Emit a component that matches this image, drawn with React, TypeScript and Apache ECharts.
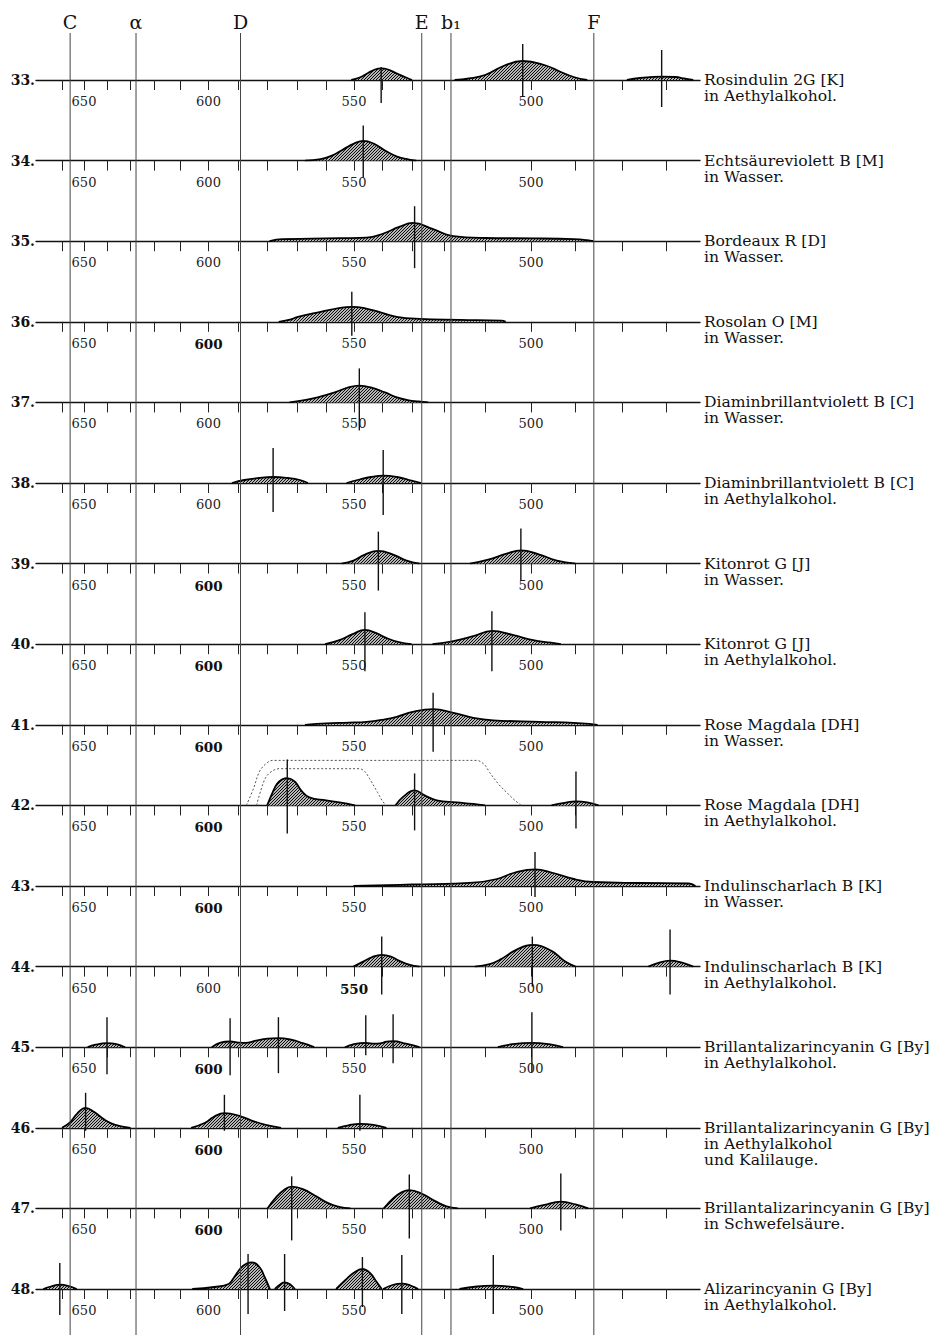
import React, { useEffect, useRef } from "react";
import * as echarts from "echarts";

const FONT = '"DejaVu Serif", "Liberation Serif", serif';

// Scale of the spectroscope: wavelength (µµ) -> scale divisions
const SCALE_NM = [670, 660, 650, 640, 630, 620, 610, 600, 590, 580, 570, 560, 550, 540, 530, 520, 510, 500, 490, 480, 470, 460];
const SCALE_DIV = [40, 62, 84, 107, 130.5, 154.5, 180.5, 208.5, 238.5, 267.5, 297, 326.5, 354, 382, 412, 444.5, 485, 531, 575.5, 622.5, 666.5, 711];

const TICK_NM = [660, 650, 640, 630, 620, 610, 600, 590, 580, 570, 560, 550, 540, 530, 520, 510, 500, 490, 480, 470];
const LABEL_NM = [650, 600, 550, 500];

const FRAUNHOFER_NAMES = ["C", "α", "D", "E", "b₁", "F"];
const FRAUNHOFER_NM = [656.3, 627.7, 589.3, 527.0, 518.4, 486.1];

const ROW_NUMBERS = [33, 34, 35, 36, 37, 38, 39, 40, 41, 42, 43, 44, 45, 46, 47, 48];
const ROW_NAMES = [
  "Rosindulin 2G [K]\nin Aethylalkohol.",
  "Echtsäureviolett B [M]\nin Wasser.",
  "Bordeaux R [D]\nin Wasser.",
  "Rosolan O [M]\nin Wasser.",
  "Diaminbrillantviolett B [C]\nin Wasser.",
  "Diaminbrillantviolett B [C]\nin Aethylalkohol.",
  "Kitonrot G [J]\nin Wasser.",
  "Kitonrot G [J]\nin Aethylalkohol.",
  "Rose Magdala [DH]\nin Wasser.",
  "Rose Magdala [DH]\nin Aethylalkohol.",
  "Indulinscharlach B [K]\nin Wasser.",
  "Indulinscharlach B [K]\nin Aethylalkohol.",
  "Brillantalizarincyanin G [By]\nin Aethylalkohol.",
  "Brillantalizarincyanin G [By]\nin Aethylalkohol\nund Kalilauge.",
  "Brillantalizarincyanin G [By]\nin Schwefelsäure.",
  "Alizarincyanin G [By]\nin Aethylalkohol.",
];
// scale numbers printed in heavier type, per row
const BOLD_LABELS = [[], [], [], [600], [], [], [600], [600], [600], [600], [600], [550], [600], [600], [600], []];

// absorption bands: [wavelength, height]
const BANDS_33 = [
  [[551, 0], [548, 2.5], [545, 7], [542.5, 10.5], [540.3, 11.7], [538, 10.5], [535, 6.5], [532, 2.5], [530, 0]],
  [[517.5, 0], [514, 1.5], [510, 5], [506, 14], [501.8, 19], [497, 15], [493.3, 8], [490.4, 3], [487.5, 0]],
  [[479, 0], [476, 2], [473, 3.2], [471.1, 3.4], [468, 3], [466, 1.5], [464, 0]],
];
const PEAKS_33 = [[540.3, 13, 23], [501.8, 36, 17], [471.1, 30, 27]];

const BANDS_34 = [
  [[567.3, 0], [562, 1.5], [558, 5], [554, 11], [550, 17], [546.7, 19.7], [543, 17], [539, 10], [535, 4], [531, 1], [528.7, 0]],
];
const PEAKS_34 = [[546.7, 35, 17]];

const BANDS_35 = [
  [[579.3, 0], [575, 2], [565, 2.5], [555, 3], [545.5, 3.5], [539.5, 7.7], [534.5, 14], [529.7, 18.3], [523.5, 12], [517.8, 5], [510, 3.2], [498.8, 2.8], [490.4, 2], [487.5, 1], [486.2, 0]],
];
const PEAKS_35 = [[529.2, 35, 27]];

const BANDS_36 = [
  [[576.2, 0], [572, 2.5], [569.7, 5], [562, 10], [555, 14], [550.8, 15], [546, 13.5], [540, 9], [535.1, 5], [527.7, 3], [516.2, 2], [506.4, 1.2], [505.5, 0]],
];
const PEAKS_36 = [[550.8, 30, 14]];

const BANDS_37 = [
  [[572.5, 0], [568, 2], [563, 5], [557, 10], [552, 15], [548.1, 16.7], [544, 15], [539, 10], [535, 5], [531, 2], [528, 1], [525, 0]],
];
const PEAKS_37 = [[548.1, 34, 28]];

const BANDS_38 = [
  [[592.2, 0], [588, 3], [583, 5], [578.1, 6], [573, 5], [569, 3], [566.3, 0]],
  [[552.7, 0], [548, 3.5], [544, 6], [539.6, 7.3], [535, 6], [531, 3], [527.2, 0]],
];
const PEAKS_38 = [[578.1, 35, 29], [539.6, 33, 32]];

const BANDS_39 = [
  [[554.5, 0], [550.2, 3], [546.1, 9], [541.3, 12.7], [536.3, 9], [531.8, 3], [527.7, 0]],
  [[513.7, 0], [509.3, 4], [505.3, 10], [502.2, 13.3], [498.1, 9], [494.2, 3], [490, 0]],
];
const PEAKS_39 = [[541.3, 32, 27], [502.2, 35, 17]];

const BANDS_40 = [
  [[560.5, 0], [555.3, 4], [550.5, 10], [546.1, 14.3], [542, 11], [538.4, 6], [534.4, 2], [530.2, 0]],
  [[523.7, 0], [517.8, 3], [512.9, 8], [508.5, 13.3], [503.8, 9], [499.5, 4], [495.5, 1.5], [493.3, 0]],
];
const PEAKS_40 = [[546.1, 32, 27], [508.5, 33, 27]];

const BANDS_41 = [
  [[567.3, 0], [560, 1.5], [552, 2.2], [545.5, 3], [540, 5], [535.1, 8], [529.8, 13], [523.5, 15.7], [517.8, 12], [512.9, 7], [508.2, 4.5], [498.1, 3], [490.4, 2], [487, 1], [485.3, 0]],
];
const PEAKS_41 = [[523.5, 32, 27]];

const BANDS_42 = [
  [[580.1, 0], [578.4, 12], [576.7, 22], [575, 26], [573.3, 27.3], [570.8, 24], [568.6, 15], [565.8, 8], [560.1, 5], [555.3, 3], [549.6, 0]],
  [[535.5, 0], [532.8, 9], [529.2, 15], [526.1, 10], [522.4, 5], [517, 3], [512.9, 1.5], [510, 0]],
  [[495.4, 0], [492.5, 2.5], [489.9, 4], [487.5, 3], [485.1, 0]],
];
const PEAKS_42 = [[573.3, 46, 28], [529.2, 32, 25], [489.9, 34, 23]];
// limits of the absorption at higher concentration (dotted)
const DOTTED_42 = [
  [[587.3, 0], [584.8, 17], [582.9, 33], [580.8, 41], [578.3, 45], [560, 45], [540, 45], [520, 45], [512.1, 45], [510.2, 41], [509, 33], [507, 21], [505.3, 13], [503.5, 5], [502.1, 0]],
  [[583.8, 0], [582.3, 15], [580.6, 28], [578.6, 34], [576.1, 36.7], [565, 36.7], [555, 36.7], [548.1, 36.7], [546.2, 34], [544.5, 27], [541.6, 13], [540, 5], [538.7, 0]],
];

const BANDS_43 = [
  [[550.2, 0], [529.8, 1.5], [512.9, 3.3], [507.4, 7], [503.8, 13], [499.1, 16.7], [495, 13], [490.4, 7], [486.2, 4], [475.7, 3], [465, 2.5], [463.5, 0]],
];
const PEAKS_43 = [[499.1, 34, 11]];

const BANDS_44 = [
  [[550.2, 0], [546.7, 5], [543.5, 9.5], [540.1, 11.7], [537, 10], [534.4, 6], [531, 2], [527.7, 0]],
  [[512.5, 0], [509, 2.5], [506.7, 7], [503.1, 17], [499.7, 21.7], [495.5, 16], [492.3, 5], [490, 0]],
  [[474.1, 0], [472, 3.5], [469.2, 6], [466.5, 4], [464, 0]],
];
const PEAKS_44 = [[540.1, 30, 28], [499.7, 30, 20], [469.2, 37, 28]];

const BANDS_45 = [
  [[648.4, 0], [645, 2.5], [640, 4], [636, 3], [632.3, 0]],
  [[598.9, 0], [596, 4.5], [592.8, 5.7], [589.5, 4.5], [587.6, 4.3], [584, 6.5], [580, 8.5], [576.3, 9], [572, 7.5], [568, 4], [564.2, 0]],
  [[553.3, 0], [550, 3], [545.8, 4.3], [542.5, 3.5], [540.7, 3.8], [538.5, 5.5], [536.3, 6], [532, 3.5], [527.7, 0]],
  [[507.2, 0], [504, 3], [499.8, 4.3], [496, 3], [492.8, 0]],
];
const PEAKS_45 = [[640, 30, 27], [592.8, 29, 28], [576.3, 30, 26], [545.8, 32, 8], [536.3, 33, 16], [499.8, 35, 25]];

const BANDS_46 = [
  [[660, 0], [656.1, 6], [653.2, 14], [649.3, 20], [645.7, 16], [641, 8], [636.5, 3], [630, 0]],
  [[606.2, 0], [601.2, 5], [598.2, 11], [594.7, 14.7], [589.7, 12], [585.3, 7], [580.6, 3], [575.4, 0]],
  [[555.9, 0], [552, 2.5], [547.9, 4], [543, 3], [538.5, 0]],
];
const PEAKS_46 = [[649.3, 35, 3], [594.7, 33, 3], [547.9, 33, 3]];

const BANDS_47 = [
  [[580, 0], [577.1, 11], [574.2, 19], [571.8, 21.7], [567.8, 19], [563.5, 12], [559.2, 5], [555.4, 1.5], [551.3, 0]],
  [[539.4, 0], [536.3, 10], [533.5, 16], [530.9, 18.3], [526.6, 14], [522.7, 7], [519.5, 2], [516.7, 0]],
  [[500.2, 0], [497, 3.5], [493.3, 6.7], [490, 4], [487.3, 0]],
];
const PEAKS_47 = [[571.8, 32, 32], [530.9, 34, 30], [493.3, 35, 22]];

const BANDS_48 = [
  [[668.5, 0], [665, 2.5], [661, 4.3], [657, 3], [653.3, 0]],
  [[605.8, 0], [598.1, 2], [593.3, 5], [591.4, 12], [588.5, 23], [585.5, 26.7], [582.8, 22], [581, 12], [579.2, 0]],
  [[577.5, 0], [575.5, 5], [574.2, 6.7], [572.5, 5], [570.7, 0]],
  [[556.5, 0], [553.1, 9], [550.2, 16], [547, 20], [544.3, 16], [541.9, 7], [540.1, 0]],
  [[539.6, 0], [536.5, 4], [533.4, 5.3], [530.5, 3.5], [528.1, 0]],
  [[516.3, 0], [512, 2.5], [508.2, 3.3], [504, 2], [501.7, 0]],
];
const PEAKS_48 = [[661, 26, 26], [586.7, 35, 25], [574.2, 35, 22], [547, 32, 18], [533.4, 34, 25], [508.2, 34, 25]];

const ROW_BANDS = [BANDS_33, BANDS_34, BANDS_35, BANDS_36, BANDS_37, BANDS_38, BANDS_39, BANDS_40, BANDS_41, BANDS_42, BANDS_43, BANDS_44, BANDS_45, BANDS_46, BANDS_47, BANDS_48];
const ROW_PEAKS = [PEAKS_33, PEAKS_34, PEAKS_35, PEAKS_36, PEAKS_37, PEAKS_38, PEAKS_39, PEAKS_40, PEAKS_41, PEAKS_42, PEAKS_43, PEAKS_44, PEAKS_45, PEAKS_46, PEAKS_47, PEAKS_48];
const ROW_DOTTED: Record<number, number[][][]> = { 9: DOTTED_42 };

// layout
const W = 935;
const H = 1335;
const BASE0 = 80;
const ROW_STEP = 80.6;
const AXIS_LEFT = 36;
const AXIS_RIGHT = 700;
const GRID_H = 55;
const FR_TOP = 33;

function nmToDiv(nm: number): number {
  const n = SCALE_NM.length;
  for (let k = 0; k < n - 1; k++) {
    const a = SCALE_NM[k];
    const b = SCALE_NM[k + 1];
    if (nm <= a && nm >= b) {
      const t = (a - nm) / (a - b);
      return SCALE_DIV[k] + t * (SCALE_DIV[k + 1] - SCALE_DIV[k]);
    }
  }
  if (nm > SCALE_NM[0]) {
    const t = (SCALE_NM[0] - nm) / (SCALE_NM[0] - SCALE_NM[1]);
    return SCALE_DIV[0] + t * (SCALE_DIV[1] - SCALE_DIV[0]);
  }
  const t = (SCALE_NM[n - 2] - nm) / (SCALE_NM[n - 2] - SCALE_NM[n - 1]);
  return SCALE_DIV[n - 2] + t * (SCALE_DIV[n - 1] - SCALE_DIV[n - 2]);
}

function makeHatch() {
  const s = 3;
  const c = document.createElement("canvas");
  c.width = s;
  c.height = s;
  const ctx = c.getContext("2d")!;
  ctx.fillStyle = "#ffffff";
  ctx.fillRect(0, 0, s, s);
  ctx.strokeStyle = "#000000";
  ctx.lineWidth = 1.1;
  ctx.beginPath();
  ctx.moveTo(0, s);
  ctx.lineTo(s, 0);
  ctx.moveTo(-1, 1);
  ctx.lineTo(1, -1);
  ctx.moveTo(s - 1, s + 1);
  ctx.lineTo(s + 1, s - 1);
  ctx.stroke();
  return { image: c.toDataURL(), repeat: "repeat", imageWidth: s, imageHeight: s };
}

export default function App() {
  const ref = useRef<HTMLDivElement>(null);

  useEffect(() => {
    if (!ref.current) return;
    const chart = echarts.init(ref.current, null, { renderer: "svg" });
    const hatch = makeHatch();
    const tickDiv = TICK_NM.map(nmToDiv);
    const labelDiv = LABEL_NM.map(nmToDiv);
    const base = (i: number) => BASE0 + ROW_STEP * i;
    const nRows = ROW_NUMBERS.length;
    const pageIdx = nRows;

    const grid: any[] = [];
    const xAxis: any[] = [];
    const yAxis: any[] = [];
    const series: any[] = [];
    const graphic: any[] = [];

    for (let i = 0; i < nRows; i++) {
      const boldSet = BOLD_LABELS[i];
      grid.push({ left: AXIS_LEFT, width: AXIS_RIGHT - AXIS_LEFT, top: base(i) - GRID_H, height: GRID_H });
      xAxis.push({
        gridIndex: i,
        type: "value",
        min: AXIS_LEFT,
        max: AXIS_RIGHT,
        position: "bottom",
        axisLine: { show: true, onZero: false, lineStyle: { color: "#111", width: 1.3 } },
        axisTick: { show: true, customValues: tickDiv, length: 10, lineStyle: { color: "#222", width: 1 } },
        axisLabel: {
          show: true,
          customValues: labelDiv,
          margin: 15,
          fontFamily: FONT,
          fontSize: 13,
          color: "#222",
          rich: {
            b: { fontFamily: FONT, fontSize: 13.5, fontWeight: "bold", color: "#111" },
          },
          formatter: (v: number) => {
            let best = LABEL_NM[0];
            let d = Infinity;
            LABEL_NM.forEach((nm) => {
              const dd = Math.abs(nmToDiv(nm) - v);
              if (dd < d) {
                d = dd;
                best = nm;
              }
            });
            return boldSet.indexOf(best) >= 0 ? "{b|" + best + "}" : String(best);
          },
        },
        splitLine: { show: false },
      });
      yAxis.push({ gridIndex: i, type: "value", min: 0, max: GRID_H, show: false });

      ROW_BANDS[i].forEach((band) => {
        series.push({
          type: "line",
          xAxisIndex: i,
          yAxisIndex: i,
          data: band.map(([nm, h]) => [nmToDiv(nm), h]),
          smooth: 0.45,
          symbol: "none",
          silent: true,
          z: 3,
          lineStyle: { color: "#000", width: 1.8 },
          areaStyle: { color: hatch, opacity: 1 },
        });
      });

      (ROW_DOTTED[i] || []).forEach((curve) => {
        series.push({
          type: "line",
          xAxisIndex: i,
          yAxisIndex: i,
          data: curve.map(([nm, h]) => [nmToDiv(nm), h]),
          smooth: 0.35,
          symbol: "none",
          silent: true,
          z: 2,
          lineStyle: { color: "#555", width: 1, type: [2, 2] },
        });
      });

      series.push({
        type: "custom",
        xAxisIndex: i,
        yAxisIndex: i,
        clip: false,
        silent: true,
        z: 4,
        data: ROW_PEAKS[i].map(([nm, up, down]) => [nmToDiv(nm), up, -down]),
        renderItem: (params: any, api: any) => {
          const x = api.value(0);
          const p1 = api.coord([x, api.value(1)]);
          const p2 = api.coord([x, api.value(2)]);
          return {
            type: "line",
            shape: { x1: p1[0], y1: p1[1], x2: p2[0], y2: p2[1] },
            style: { stroke: "#111", lineWidth: 1.4 },
          };
        },
      });

      graphic.push({
        type: "text",
        x: AXIS_LEFT - 1,
        y: base(i),
        style: {
          text: ROW_NUMBERS[i] + ".",
          fontFamily: FONT,
          fontSize: 14,
          fontWeight: "bold",
          fill: "#111",
          align: "right",
          verticalAlign: "middle",
        },
      });
      graphic.push({
        type: "text",
        x: AXIS_RIGHT + 4,
        y: base(i) - 8,
        style: {
          text: ROW_NAMES[i],
          fontFamily: FONT,
          fontSize: 15.6,
          lineHeight: 16,
          fill: "#111",
          align: "left",
          verticalAlign: "top",
        },
      });
    }

    grid.push({ left: 0, top: 0, width: W, height: H });
    xAxis.push({ gridIndex: pageIdx, type: "value", min: 0, max: W, show: false });
    yAxis.push({ gridIndex: pageIdx, type: "value", min: 0, max: H, inverse: true, show: false });
    series.push({
      type: "custom",
      xAxisIndex: pageIdx,
      yAxisIndex: pageIdx,
      clip: false,
      silent: true,
      z: 5,
      data: FRAUNHOFER_NM.map((nm) => [nmToDiv(nm), FR_TOP, H]),
      renderItem: (params: any, api: any) => {
        const x = api.value(0);
        const p1 = api.coord([x, api.value(1)]);
        const p2 = api.coord([x, api.value(2)]);
        return {
          type: "group",
          children: [
            {
              type: "line",
              shape: { x1: p1[0], y1: p1[1], x2: p2[0], y2: p2[1] },
              style: { stroke: "#444", lineWidth: 1 },
            },
            {
              type: "text",
              x: p1[0],
              y: p1[1] - 11,
              style: {
                text: FRAUNHOFER_NAMES[params.dataIndex],
                fontFamily: FONT,
                fontSize: 19,
                fill: "#111",
                align: "center",
                verticalAlign: "middle",
              },
            },
          ],
        };
      },
    });

    chart.setOption({
      animation: false,
      backgroundColor: "#ffffff",
      grid,
      xAxis,
      yAxis,
      series,
      graphic,
    });
    return () => chart.dispose();
  }, []);

  return (
    <div
      ref={ref}
      style={{ position: "fixed", left: 0, top: 0, width: W, height: H, background: "#fff" }}
    />
  );
}
